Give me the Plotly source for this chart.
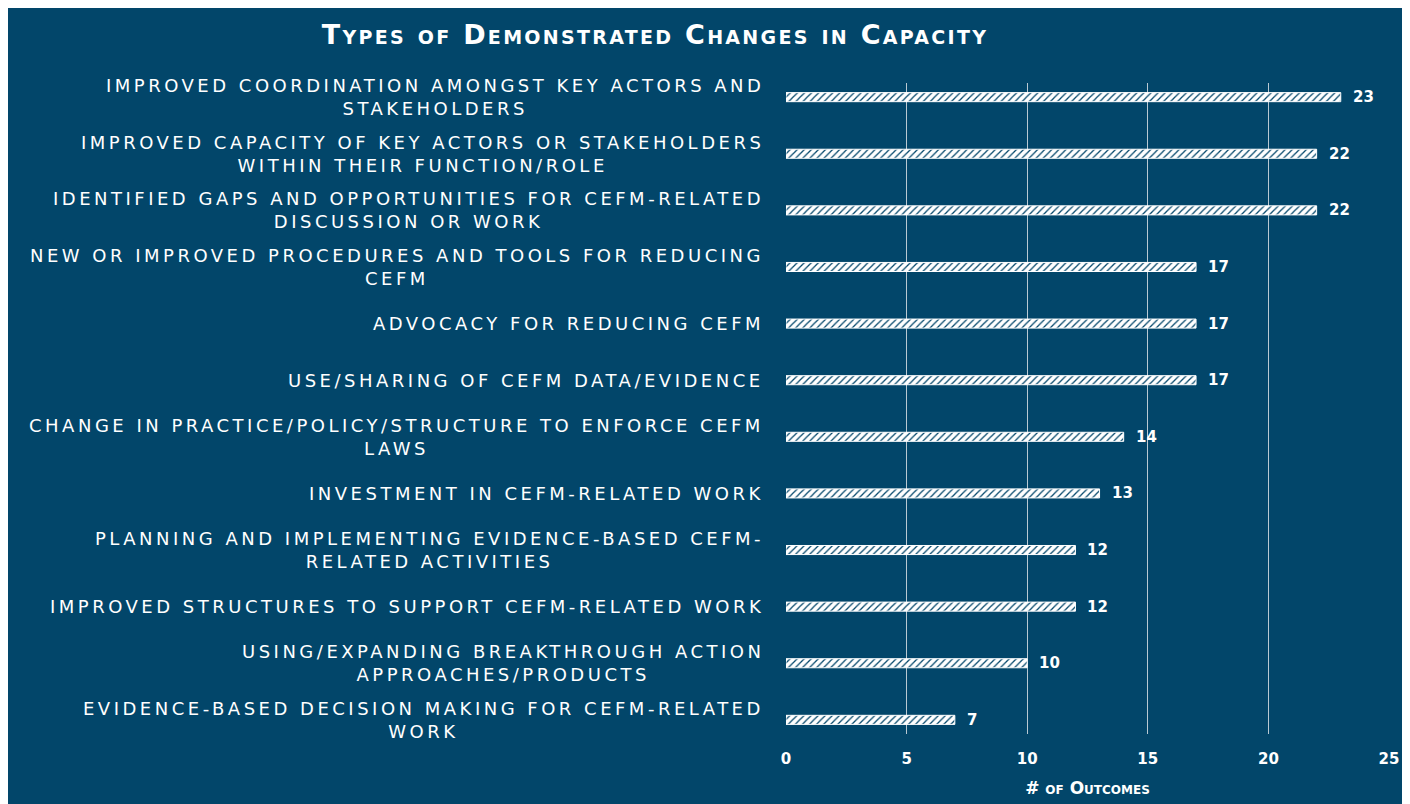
import plotly.graph_objects as go

categories = [
    "IMPROVED COORDINATION AMONGST KEY ACTORS AND<br>STAKEHOLDERS",
    "IMPROVED CAPACITY OF KEY ACTORS OR STAKEHOLDERS<br>WITHIN THEIR FUNCTION/ROLE",
    "IDENTIFIED GAPS AND OPPORTUNITIES FOR CEFM-RELATED<br>DISCUSSION OR WORK",
    "NEW OR IMPROVED PROCEDURES AND TOOLS FOR REDUCING<br>CEFM",
    "ADVOCACY FOR REDUCING CEFM",
    "USE/SHARING OF CEFM DATA/EVIDENCE",
    "CHANGE IN PRACTICE/POLICY/STRUCTURE TO ENFORCE CEFM<br>LAWS",
    "INVESTMENT IN CEFM-RELATED WORK",
    "PLANNING AND IMPLEMENTING EVIDENCE-BASED CEFM-<br>RELATED ACTIVITIES",
    "IMPROVED STRUCTURES TO SUPPORT CEFM-RELATED WORK",
    "USING/EXPANDING BREAKTHROUGH ACTION<br>APPROACHES/PRODUCTS",
    "EVIDENCE-BASED DECISION MAKING FOR CEFM-RELATED<br>WORK",
]
values = [23, 22, 22, 17, 17, 17, 14, 13, 12, 12, 10, 7]
x_ticks = [0, 5, 10, 15, 20, 25]

BG = "#02466a"
W, H = 1402, 796
L, R, T, B = 778, 21, 75, 70
FONT = "DejaVu Sans"
SP = '<span style="letter-spacing:3.5px">'

fig = go.Figure()
fig.add_trace(go.Bar(
    x=values,
    y=list(range(len(categories))),
    orientation="h",
    width=0.16,
    marker=dict(
        color="white",
        line=dict(color="white", width=1),
        pattern=dict(shape="/", fgcolor=BG, bgcolor="white", size=5, solidity=0.25, fillmode="replace"),
    ),
    showlegend=False,
    hoverinfo="x+y",
))

for i, lab in enumerate(categories):
    fig.add_annotation(
        x=0, xref="paper", y=i, yref="y",
        text=SP + lab.replace("<br>", "</span><br>" + SP) + "</span>",
        showarrow=False,
        xanchor="right", yanchor="middle", align="center",
        xshift=-20,
        font=dict(color="white", size=18, family=FONT),
    )
    fig.add_annotation(
        x=values[i], xref="x", y=i, yref="y",
        text="<b>" + str(values[i]) + "</b>", showarrow=False,
        xanchor="left", yanchor="middle", xshift=10,
        font=dict(color="white", size=15, family=FONT),
    )

fig.update_layout(
    width=W, height=H,
    margin=dict(l=L, r=R, t=T, b=B, pad=0, autoexpand=False),
    paper_bgcolor=BG,
    plot_bgcolor=BG,
    title=dict(
        text='<b><span style="letter-spacing:2.3px">Types of Demonstrated Changes in Capacity</span></b>',
        x=(655 - 8) / W, xanchor="center", y=1 - 27 / H, yanchor="middle",
        font=dict(color="white", size=27, family=FONT, variant="small-caps"),
    ),
    xaxis=dict(
        range=[0, 25], tickvals=x_ticks, ticktext=["<b>%d</b>" % t for t in x_ticks],
        showgrid=True, gridcolor="#b9c9d3", gridwidth=1,
        zeroline=False, showline=False, automargin=False,
        tickfont=dict(color="white", size=15, family=FONT),
        ticks="", ticklabelstandoff=14,
        title=dict(text="<b># of Outcomes</b>", font=dict(color="white", size=17, family=FONT, variant="small-caps"), standoff=15),
    ),
    yaxis=dict(
        range=[len(categories) - 0.75, -0.25], automargin=False,
        showticklabels=False, showgrid=False, zeroline=False, ticks="",
    ),
)

fig.write_html("out.html")
